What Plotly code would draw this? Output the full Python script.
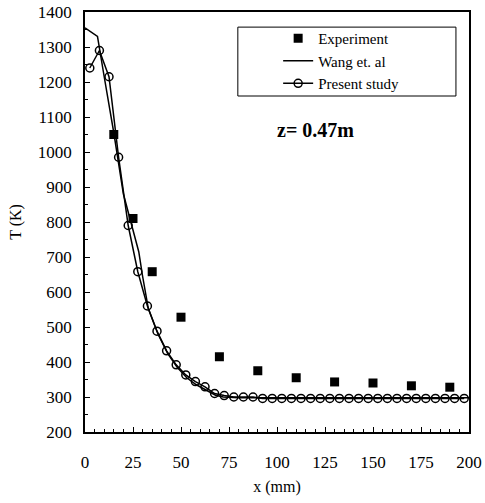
import plotly.graph_objects as go

# Experiment
exp_x = [15, 25, 35, 50, 70, 90, 110, 130, 150, 170, 190]
exp_T = [1050, 810, 658, 528, 415, 375, 355, 343, 340, 332, 328]

# Wang et. al
wang_x = [0, 6.5, 10, 15, 20, 25, 28, 30, 33, 38, 43, 48, 53, 58, 63, 68, 72, 80, 200]
wang_T = [1355, 1330, 1215, 1055, 880, 775, 715, 645, 552, 480, 425, 385, 355, 335, 320, 305, 300, 298, 298]

# Present study
pres_x = [2.5 + 5 * k for k in range(40)]
pres_T = [1240, 1290, 1215, 985, 790, 658, 560, 488, 432, 392,
          363, 344, 329, 310, 304, 300, 300, 300] + [296] * 22

FONT = "Liberation Serif, Times New Roman, serif"

fig = go.Figure()
fig.add_trace(go.Scatter(x=exp_x, y=exp_T, mode="markers", name="Experiment",
                         marker=dict(symbol="square", size=9, color="black")))
fig.add_trace(go.Scatter(x=wang_x, y=wang_T, mode="lines", name="Wang et. al",
                         line=dict(color="black", width=1.5)))
fig.add_trace(go.Scatter(x=pres_x, y=pres_T, mode="lines+markers", name="Present study",
                         line=dict(color="black", width=1.5),
                         marker=dict(symbol="circle-open", size=8, color="black",
                                     line=dict(width=1.5, color="black"))))

axis_common = dict(showline=True, linecolor="black", linewidth=1.5, mirror=True,
                   ticks="inside", ticklen=5, tickcolor="black", showgrid=False,
                   zeroline=False, automargin=False,
                   tickfont=dict(family=FONT, size=17, color="black"))

fig.update_xaxes(range=[0, 200], dtick=25, tick0=0, ticklabelstandoff=14,
                 minor=dict(dtick=5, ticks="inside", ticklen=3, tickcolor="black"),
                 title=dict(text="x (mm)", font=dict(family=FONT, size=16, color="black"),
                            standoff=10),
                 **axis_common)
fig.update_yaxes(range=[200, 1400], dtick=100, tick0=200, ticklabelstandoff=8,
                 minor=dict(dtick=50, ticks="inside", ticklen=3, tickcolor="black"),
                 title=dict(text="T (K)", font=dict(family=FONT, size=16, color="black"),
                            standoff=12),
                 **axis_common)

fig.add_annotation(x=0.495, y=0.719, xref="paper", yref="paper", xanchor="left",
                   yanchor="middle", showarrow=False,
                   text="<b>z= 0.47m</b>", font=dict(family=FONT, size=20, color="black"))

# legend frame
fig.add_shape(type="rect", xref="paper", yref="paper",
              x0=0.398, x1=0.966, y0=0.80, y1=0.964,
              line=dict(color="black", width=1), fillcolor="rgba(0,0,0,0)")

fig.update_layout(
    width=485, height=503,
    margin=dict(l=85, r=16, t=12, b=71),
    paper_bgcolor="white", plot_bgcolor="white",
    font=dict(family=FONT, size=16, color="black"),
    legend=dict(x=0.503, y=0.976, xanchor="left", yanchor="top",
                borderwidth=0, bgcolor="rgba(0,0,0,0)",
                font=dict(family=FONT, size=15, color="black"),
                tracegroupgap=0, itemwidth=30),
    showlegend=True,
)

fig.write_html("out.html")
